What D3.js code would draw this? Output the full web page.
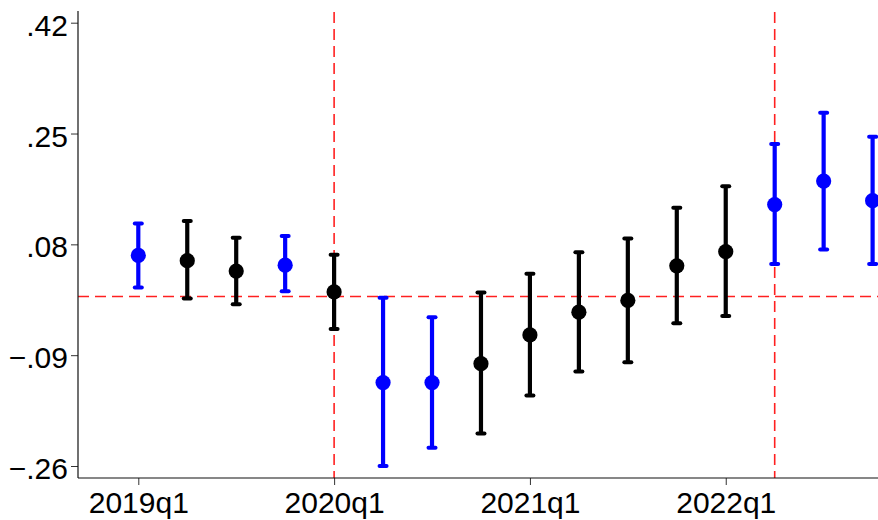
<!DOCTYPE html>
<html>
<head>
<meta charset="utf-8">
<script src="https://cdn.jsdelivr.net/npm/d3@7"></script>
<style>
  html, body { margin: 0; padding: 0; background: #fff; }
  svg { display: block; }
  text { font-family: "Liberation Sans", Arial, Helvetica, sans-serif; }
</style>
</head>
<body>
<svg id="chart" width="878" height="520"></svg>
<script>
// 季度标签
const quarters = ["2019q1", "2019q2", "2019q3", "2019q4",
                  "2020q1", "2020q2", "2020q3", "2020q4",
                  "2021q1", "2021q2", "2021q3", "2021q4",
                  "2022q1", "2022q2", "2022q3", "2022q4"];

// 点估计
const estimates = [0.063, 0.055, 0.039, 0.048,
                   0.007, -0.132, -0.132, -0.103,
                   -0.059, -0.024, -0.006, 0.047,
                   0.069, 0.141, 0.177, 0.147];

// 置信区间下限 / 上限
const lower = [0.014, -0.003, -0.012, 0.008,
               -0.050, -0.260, -0.232, -0.210,
               -0.152, -0.115, -0.101, -0.041,
               -0.030, 0.050, 0.072, 0.050];
const upper = [0.112, 0.116, 0.090, 0.093,
               0.064, -0.002, -0.032, 0.006,
               0.035, 0.068, 0.089, 0.136,
               0.169, 0.234, 0.282, 0.245];

// 分组：blue 为特殊季度
const groups = ["blue", "black", "black", "blue",
                "black", "blue", "blue", "black",
                "black", "black", "black", "black",
                "black", "blue", "blue", "blue"];

const yTicks = [-0.26, -0.09, 0.08, 0.25, 0.42];
const xTickLabels = ["2019q1", "2020q1", "2021q1", "2022q1"];
const vLines = ["2020q1", "2022q2"];

// 尺寸
const plotLeft = 78, plotRight = 878, plotTop = 11, plotBottom = 478;
const colors = { blue: "#0000ff", black: "#000000" };

const svg = d3.select("#chart");

const x = d3.scaleLinear()
    .domain([0, quarters.length - 1])
    .range([138.3, 872.6]);

const y = d3.scaleLinear()
    .domain([-0.26, 0.42])
    .range([466, 22.7]);

const fmt = v => d3.format(".2f")(v).replace("0.", ".");

// 参考线（在点之下）
const refs = svg.append("g");
refs.append("line")
    .attr("x1", plotLeft).attr("x2", plotRight)
    .attr("y1", y(0)).attr("y2", y(0))
    .attr("stroke", "#ff2020").attr("stroke-width", 1.6)
    .attr("stroke-dasharray", "11,6");

refs.selectAll(".vline")
    .data(vLines)
    .enter()
    .append("line")
    .attr("class", "vline")
    .attr("x1", d => x(quarters.indexOf(d)))
    .attr("x2", d => x(quarters.indexOf(d)))
    .attr("y1", plotTop + 1).attr("y2", plotBottom)
    .attr("stroke", "#ff2020").attr("stroke-width", 1.6)
    .attr("stroke-dasharray", "11,6");

// 坐标轴
const yAxis = d3.axisLeft(y)
    .tickValues(yTicks)
    .tickFormat(fmt)
    .tickSize(7)
    .tickPadding(3);

const gy = svg.append("g")
    .attr("transform", `translate(${plotLeft},0)`)
    .call(yAxis);
gy.select(".domain").remove();
gy.selectAll(".tick line").attr("stroke", "#333").attr("stroke-width", 1);
gy.selectAll(".tick text")
    .attr("font-size", 30)
    .attr("fill", "#000")
    .attr("dy", "0.42em");

const xAxis = d3.axisBottom(x)
    .tickValues(xTickLabels.map(d => quarters.indexOf(d)))
    .tickFormat(i => quarters[i])
    .tickSize(7)
    .tickPadding(5);

const gx = svg.append("g")
    .attr("transform", `translate(0,${plotBottom})`)
    .call(xAxis);
gx.select(".domain").remove();
gx.selectAll(".tick line").attr("stroke", "#333").attr("stroke-width", 1);
gx.selectAll(".tick text")
    .attr("font-size", 30)
    .attr("fill", "#000")
    .attr("dy", "0.76em");

svg.append("line")
    .attr("x1", plotLeft).attr("x2", plotLeft)
    .attr("y1", plotTop).attr("y2", plotBottom)
    .attr("stroke", "#111").attr("stroke-width", 1.2);
svg.append("line")
    .attr("x1", plotLeft).attr("x2", plotRight)
    .attr("y1", plotBottom).attr("y2", plotBottom)
    .attr("stroke", "#111").attr("stroke-width", 1.2);

// 误差棒与点
const pts = svg.append("g")
    .selectAll("g")
    .data(quarters.map((q, i) => ({ q, i, est: estimates[i], lo: lower[i], hi: upper[i], grp: groups[i] })))
    .enter()
    .append("g");

pts.append("line")
    .attr("x1", d => x(d.i)).attr("x2", d => x(d.i))
    .attr("y1", d => y(d.lo)).attr("y2", d => y(d.hi))
    .attr("stroke", d => colors[d.grp])
    .attr("stroke-width", 4.2);

["lo", "hi"].forEach(k => {
    pts.append("line")
        .attr("x1", d => x(d.i) - 3.5).attr("x2", d => x(d.i) + 3.5)
        .attr("y1", d => y(d[k])).attr("y2", d => y(d[k]))
        .attr("stroke", d => colors[d.grp])
        .attr("stroke-width", 4)
        .attr("stroke-linecap", "round");
});

pts.append("circle")
    .attr("cx", d => x(d.i))
    .attr("cy", d => y(d.est))
    .attr("r", 7.6)
    .attr("fill", d => colors[d.grp]);
</script>
</body>
</html>
